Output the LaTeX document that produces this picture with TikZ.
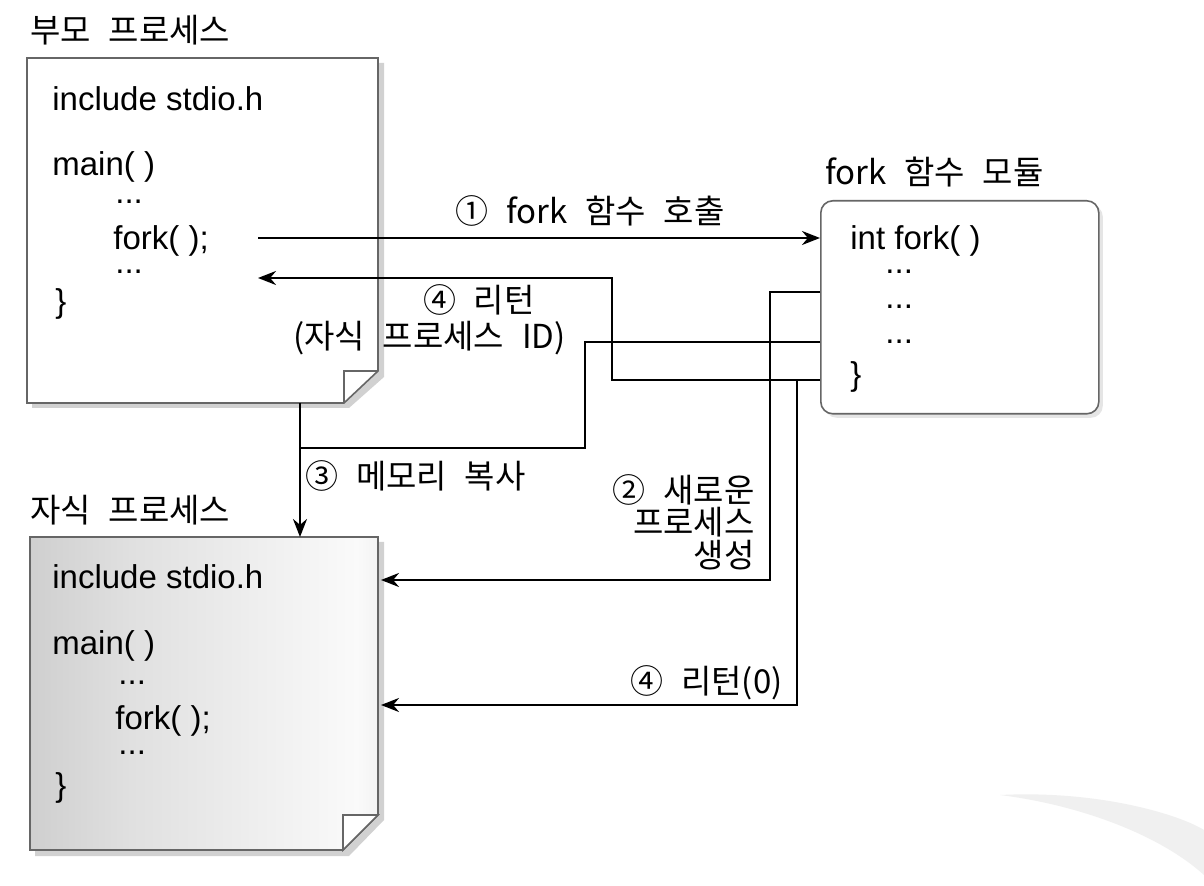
\documentclass[tikz,border=0pt]{standalone}
\usepackage{fontspec}
\setmainfont{Noto Sans CJK KR}
\newfontfamily\lblfont{Noto Sans CJK KR}[WordSpace=2.4]
\newfontfamily\codefont{Liberation Sans}
\usetikzlibrary{arrows.meta,positioning,shadows}

\pgfdeclarehorizontalshading{pagegrad}{100bp}{color(0bp)=(black!30); color(40bp)=(black!12); color(72bp)=(black!2); color(100bp)=(black!24)}

\tikzset{
  page/.style={draw=black!60, line width=0.8pt},
  pageshadow/.style={fill=black!18, draw=none},
  modbox/.style={draw=black!60, line width=0.8pt, rounded corners=6pt, fill=white,
    drop shadow={shadow xshift=2pt, shadow yshift=-2pt, fill=black!20}},
  code/.style={anchor=base west, inner sep=0pt, font=\codefont\fontsize{16.5}{19}\selectfont},
  lbl/.style={inner sep=0pt, font=\lblfont\fontsize{16.5}{19}\selectfont},
  link/.style={line width=1.2pt},
  arr/.style={link, -{Stealth[length=9pt,width=7pt]}},
}

\begin{document}
\begin{tikzpicture}[x=0.5pt,y=-0.5pt]
\useasboundingbox[fill=white] (0,0) rectangle (1204,886);

% faint swoosh, bottom right
\fill[black!6] (1000,795) .. controls (1100,790) and (1180,815) .. (1204,830) -- (1204,875) .. controls (1160,835) and (1080,805) .. (1000,795);

% parent process page
\node[lbl, anchor=west] (ptitle) at (30,30) {부모 프로세스};
\fill[pageshadow] (32,63) -- (384,63) -- (384,377) -- (349,408) -- (32,408) -- cycle;
\draw[page, fill=white] (27,58) -- (378,58) -- (378,371) -- (344,403) -- (27,403) -- cycle;
\draw[page] (344,403) -- (344,371) -- (378,371);
\node[code] (pinc) at (52,111) {include stdio.h};
\node[code] (pmain) at (52,176) {main( )};
\node[code] (pdot1) at (115,204) {...};
\node[code] (pfork) at (113,250) {fork( );};
\node[code] (pdot2) at (115,274) {...};
\node[code] (pend) at (55,313) {\}};

% child process page
\node[lbl, anchor=west] (ctitle) at (30,510) {자식 프로세스};
\fill[pageshadow] (35,542) -- (384,542) -- (384,820) -- (349,856) -- (35,856) -- cycle;
\draw[page, shading=pagegrad] (30,537) -- (378,537) -- (378,815) -- (343,850) -- (30,850) -- cycle;
\draw[page, fill=white] (343,850) -- (343,815) -- (378,815) -- cycle;
\node[code] (cinc) at (52,589) {include stdio.h};
\node[code] (cmain) at (52,654) {main( )};
\node[code] (cdot1) at (118,684) {...};
\node[code] (cfork) at (115,729) {fork( );};
\node[code] (cdot2) at (118,754) {...};
\node[code] (cend) at (55,796) {\}};

% fork module
\node[lbl, anchor=west] (ftitle) at (825,172) {fork 함수 모듈};
\node[modbox, anchor=north west, minimum width=139pt, minimum height=106.5pt] (forkmod) at (820,200) {};
\node[code] (fint) at (850,250) {int fork( )};
\node[code] (fdot1) at (885,274) {...};
\node[code] (fdot2) at (885,309) {...};
\node[code] (fdot3) at (885,344) {...};
\node[code] (fend) at (850,386) {\}};

% connector ends
\coordinate (c1) at (258,238);
\coordinate (r4) at (258,278);
\coordinate (f2) at (820,292);
\coordinate (f3) at (820,342);
\coordinate (f4) at (820,380);
\coordinate (b4) at (797,380);
\coordinate (p3) at (300,403);
\coordinate (k3) at (300,537);
\coordinate (k2) at (381,580);
\coordinate (k4) at (381,705);

% connectors
\draw[arr] (c1) -- (c1 -| forkmod.west);
\draw[arr] (f4) -| ++(-208,-102) -- (r4);
\draw[link] (f3) -| ++(-235,106) -- ++(-285,0);
\draw[arr] (p3) -- (k3);
\draw[arr] (f2) -| ++(-50,288) -- (k2);
\draw[arr] (b4) |- (k4);

% labels
\node[lbl] (l1) at (590,211) {① fork 함수 호출};
\node[lbl, anchor=east] (l4a) at (535,300) {④ 리턴};
\node[lbl, anchor=east] (l4b) at (566,338) {(자식 프로세스 ID)};
\node[lbl, anchor=west] (l3) at (305,476) {③ 메모리 복사};
\node[lbl, anchor=east] (l2a) at (755,490) {② 새로운};
\node[lbl, anchor=east] (l2b) at (755,522) {프로세스};
\node[lbl, anchor=east] (l2c) at (755,555) {생성};
\node[lbl, anchor=east] (l4c) at (783,683) {④ 리턴(0)};
\end{tikzpicture}
\end{document}
